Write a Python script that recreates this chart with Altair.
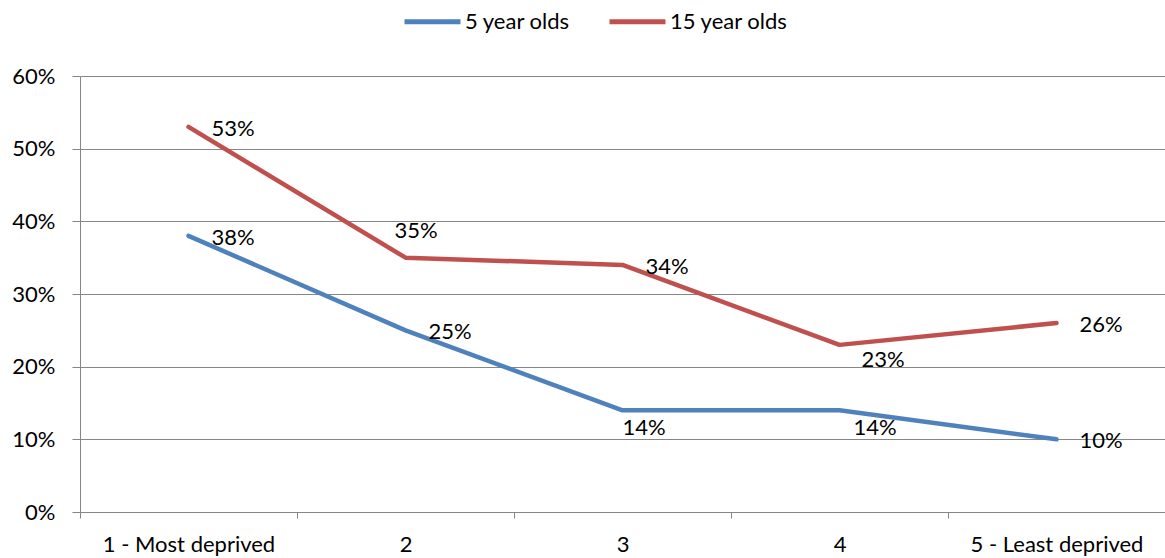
import altair as alt
import pandas as pd

categories = ["1 - Most deprived", "2", "3", "4", "5 - Least deprived"]
series_names = ["5 year olds", "15 year olds"]
five_year = [0.38, 0.25, 0.14, 0.14, 0.10]
fifteen_year = [0.53, 0.35, 0.34, 0.23, 0.26]
y_ticks = [0, 0.1, 0.2, 0.3, 0.4, 0.5, 0.6]

rows = []
for i, c in enumerate(categories):
    rows.append({"cat": c, "series": series_names[0], "value": five_year[i], "idx": i})
    rows.append({"cat": c, "series": series_names[1], "value": fifteen_year[i], "idx": i})
df = pd.DataFrame(rows)

FONT = "Lato"
FS = 22
colors = ["#4F81BD", "#C0504D"]

x_enc = alt.X("cat:N", sort=categories, bandPosition=0.5,
              scale=alt.Scale(type="band", paddingInner=0, paddingOuter=0),
              axis=alt.Axis(title=None, labelAngle=0, tickBand="extent", labelFontSize=FS,
                            labelFont=FONT, labelColor="#000000", labelPadding=16,
                            domainColor="#868686", tickColor="#868686", tickSize=6, grid=False))
y_enc = alt.Y("value:Q", scale=alt.Scale(domain=[0, 0.6], nice=False),
              axis=alt.Axis(title=None, format=".0%", values=y_ticks, labelFontSize=FS,
                            labelFont=FONT, labelColor="#000000", labelPadding=17,
                            domainColor="#868686", tickColor="#868686", tickSize=8,
                            gridColor="#868686", gridWidth=1))

base = alt.Chart(df)

lines = base.mark_line(strokeWidth=4.5, strokeCap="round", strokeJoin="round").encode(
    x=x_enc, y=y_enc,
    color=alt.Color("series:N", sort=series_names,
                    scale=alt.Scale(domain=series_names, range=colors),
                    legend=alt.Legend(title=None, orient="none", direction="horizontal",
                                      legendX=322, legendY=-85, symbolType="stroke",
                                      symbolSize=3136, symbolStrokeWidth=5,
                                      labelFontSize=FS, labelFont=FONT, labelColor="#000000",
                                      labelOffset=2, columnPadding=28)),
)


def label_layer(filt, dx, dy):
    return base.transform_filter(filt).mark_text(
        align="left", baseline="middle", dx=dx, dy=dy, fontSize=FS, font=FONT, color="#000000"
    ).encode(
        x=alt.X("cat:N", sort=categories, bandPosition=0.5),
        y="value:Q",
        text=alt.Text("value:Q", format=".0%"),
    )


s5 = "datum.series == '5 year olds'"
s15 = "datum.series == '15 year olds'"
right = label_layer(f"({s5} && (datum.idx == 0 || datum.idx == 1 || datum.idx == 4)) || ({s15} && (datum.idx == 0 || datum.idx == 2 || datum.idx == 4))", 23, 2)
above = label_layer(f"{s15} && datum.idx == 1", -11, -27)
below3 = label_layer(f"{s5} && datum.idx == 2", 0, 18)
below4 = label_layer(f"{s5} && datum.idx == 3", 14, 18)
below23 = label_layer(f"{s15} && datum.idx == 3", 22, 15)

chart = alt.layer(lines, right, above, below3, below4, below23).properties(
    width=1085, height=436,
    autosize=alt.AutoSizeParams(type="none"),
    padding={"left": 80, "top": 76, "right": 0, "bottom": 46},
    background="#ffffff",
).configure_view(stroke=None)

chart.save("out.html", embed_options={"renderer": "svg", "actions": False})
